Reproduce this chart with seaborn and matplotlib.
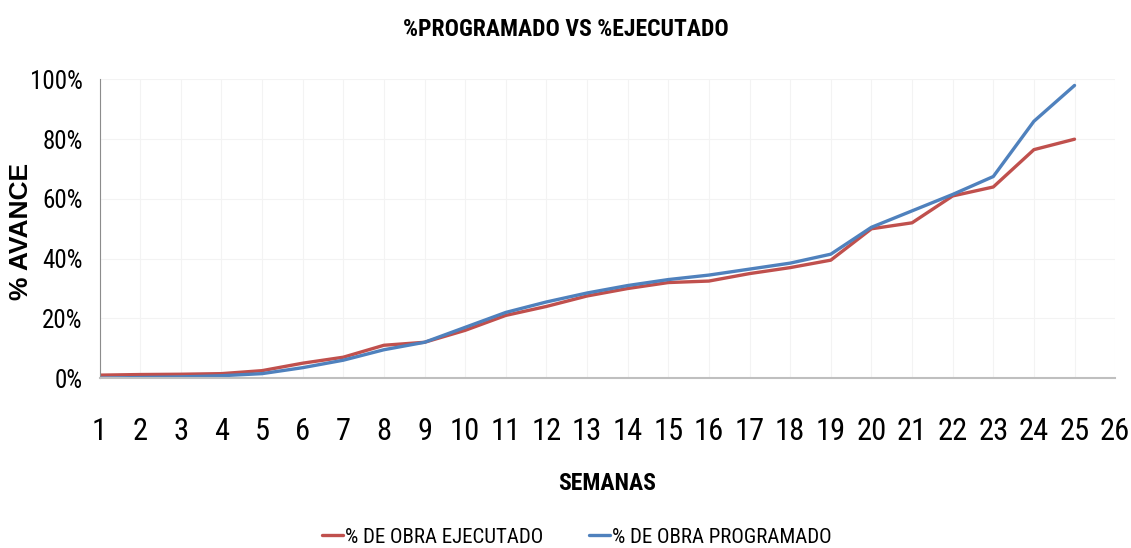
import matplotlib
matplotlib.use("Agg")
import matplotlib.pyplot as plt
import seaborn as sns
import pandas as pd
from matplotlib.ticker import PercentFormatter

# data
semanas = list(range(1, 26))
ejecutado = [0.010, 0.012, 0.013, 0.015, 0.025, 0.050, 0.070, 0.110, 0.120, 0.160,
             0.210, 0.240, 0.275, 0.300, 0.320, 0.325, 0.350, 0.370, 0.395, 0.500,
             0.520, 0.610, 0.640, 0.765, 0.800]
programado = [0.000, 0.002, 0.004, 0.008, 0.015, 0.035, 0.060, 0.095, 0.120, 0.170,
              0.220, 0.255, 0.285, 0.310, 0.330, 0.345, 0.365, 0.385, 0.415, 0.505,
              0.560, 0.615, 0.675, 0.860, 0.980]
nombres = ["% DE OBRA EJECUTADO", "% DE OBRA PROGRAMADO"]
colores = ["#C0504D", "#4F81BD"]

df = pd.DataFrame({"semana": semanas, nombres[0]: ejecutado, nombres[1]: programado})
df_long = df.melt(id_vars="semana", var_name="serie", value_name="avance")

sns.set_style("white")
narrow = ["Roboto Condensed", "Liberation Sans Narrow", "DejaVu Sans"]
plt.rcParams["font.family"] = narrow
plt.rcParams["text.color"] = "black"

fig = plt.figure(figsize=(11.31, 5.48), dpi=100)
ax = fig.add_axes([0.088, 0.310, 0.898, 0.545])

sns.lineplot(data=df_long, x="semana", y="avance", hue="serie", palette=colores,
             linewidth=2.4, ax=ax, legend=True)

ax.set_xlim(1, 26)
ax.set_ylim(0, 1.0)
ax.set_xticks(range(1, 27))
ax.set_yticks([0, 0.2, 0.4, 0.6, 0.8, 1.0])
ax.yaxis.set_major_formatter(PercentFormatter(1.0, decimals=0))
ax.tick_params(axis="x", labelsize=22, length=0, pad=28, labelcolor="black")
ax.tick_params(axis="y", labelsize=18, length=0, pad=12, labelcolor="black")
ax.grid(True, color="#f3f3f3", linewidth=0.8)

for s in ["top", "right"]:
    ax.spines[s].set_visible(False)
ax.spines["left"].set_color("#8c8c8c")
ax.spines["bottom"].set_color("#bfbfbf")
ax.spines["bottom"].set_linewidth(1.5)

ax.set_xlabel("")
ax.set_ylabel("")
fig.text(0.537, 1 - 483 / 548, "SEMANAS", ha="center", va="center", fontsize=17, fontweight="bold")
fig.text(0.019, 1 - 231 / 548, "% AVANCE", rotation=90, ha="center", va="center", fontsize=19,
         fontweight="bold", family=["Liberation Sans", "DejaVu Sans"])
fig.suptitle("%PROGRAMADO VS %EJECUTADO", x=0.500, y=0.968, fontsize=17, fontweight="bold")

handles, labels = ax.get_legend_handles_labels()
ax.get_legend().remove()
fig.legend(handles, labels, loc="center", bbox_to_anchor=(0.51, 0.02), ncol=2, frameon=False,
           fontsize=15, handlelength=1.0, handletextpad=0.1, columnspacing=2.2)

fig.savefig("out.png", dpi=100)
